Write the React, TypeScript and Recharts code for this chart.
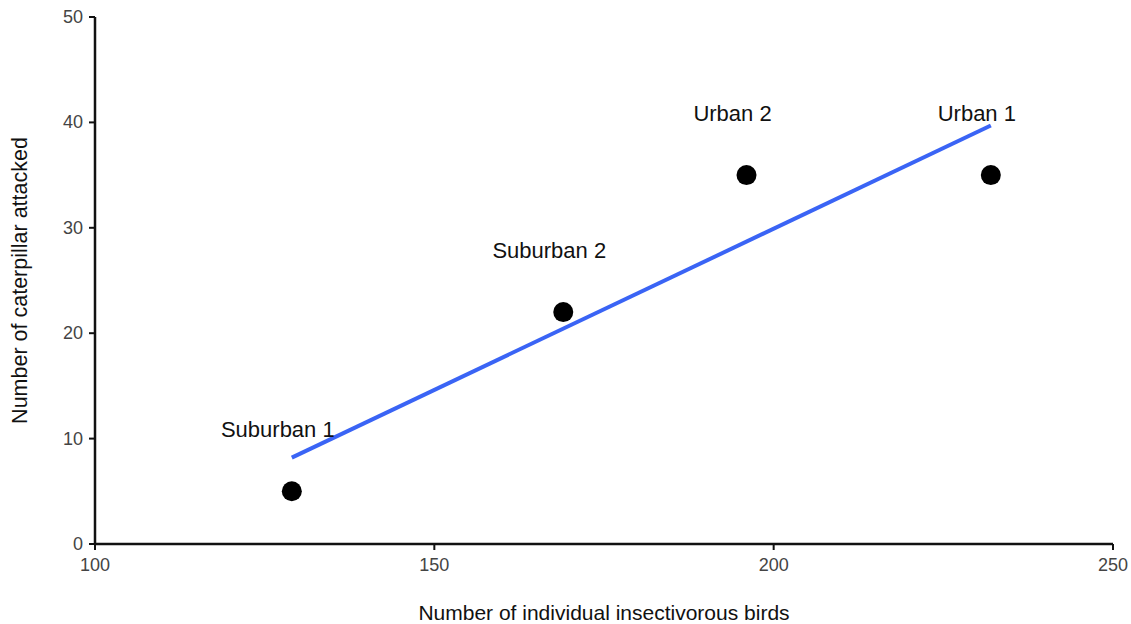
import React from 'react';
import { ComposedChart, Scatter, XAxis, YAxis, LabelList } from 'recharts';

const siteNames = ['Suburban 1', 'Suburban 2', 'Urban 2', 'Urban 1'];
const birdCounts = [129, 169, 196, 232];
const caterpillarsAttacked = [5, 22, 35, 35];
const fitX = [129, 232];
const fitY = [8.2, 39.7];
const xTicks = [100, 150, 200, 250];
const yTicks = [0, 10, 20, 30, 40, 50];

const points = siteNames.map((name, i) => ({ name, x: birdCounts[i], y: caterpillarsAttacked[i] }));
const fitLine = fitX.map((x, i) => ({ x, y: fitY[i] }));

const FONT = '"Liberation Sans", Arial, sans-serif';

const Dot = (props: any) => {
  const { cx, cy } = props;
  if (cx == null || cy == null) return null;
  return <circle cx={cx} cy={cy} r={10} fill="#000" />;
};

const NoShape = () => null;

const SiteLabel = (props: any) => {
  const { x, y, width, height, value } = props;
  const cx = x + (width || 0) / 2;
  const cy = y + (height || 0) / 2;
  return (
    <text x={cx - 14} y={cy - 54} textAnchor="middle" style={{ fontSize: 22, fontFamily: FONT, fill: '#111' }}>
      {value}
    </text>
  );
};

const XTick = (props: any) => {
  const { x, y, payload } = props;
  return (
    <text x={x} y={y + 17} textAnchor="middle" style={{ fontSize: 18, fontFamily: FONT, fill: '#444' }}>
      {payload.value}
    </text>
  );
};

const YTick = (props: any) => {
  const { x, y, payload } = props;
  return (
    <text x={x - 1} y={y + 6} textAnchor="end" style={{ fontSize: 18, fontFamily: FONT, fill: '#444' }}>
      {payload.value}
    </text>
  );
};

const XTitle = (props: any) => {
  const vb = props.viewBox || {};
  const cx = vb.x + vb.width / 2;
  return (
    <text x={cx} y={620} textAnchor="middle" style={{ fontSize: 21, fontFamily: FONT, fill: '#111' }}>
      Number of individual insectivorous birds
    </text>
  );
};

const YTitle = (props: any) => {
  const vb = props.viewBox || {};
  const cy = vb.y + vb.height / 2;
  return (
    <text x={27} y={cy} transform={`rotate(-90 27 ${cy})`} textAnchor="middle" style={{ fontSize: 21.5, fontFamily: FONT, fill: '#111' }}>
      Number of caterpillar attacked
    </text>
  );
};

export default function App() {
  return (
    <div style={{ position: 'absolute', left: 0, top: 0, background: '#fff' }}>
      <ComposedChart width={1131} height={624} margin={{ top: 17, right: 18, bottom: 0, left: 0 }}>
        <XAxis
          type="number"
          dataKey="x"
          domain={[100, 250]}
          ticks={xTicks}
          height={80}
          axisLine={{ stroke: '#111', strokeWidth: 2.5 }}
          tickLine={{ stroke: '#111', strokeWidth: 2 }}
          tickSize={6}
          tickMargin={4}
          tick={XTick}
          label={<XTitle />}
        />
        <YAxis
          type="number"
          dataKey="y"
          domain={[0, 50]}
          ticks={yTicks}
          width={95}
          axisLine={{ stroke: '#111', strokeWidth: 2.5 }}
          tickLine={{ stroke: '#111', strokeWidth: 2 }}
          tickSize={6}
          tickMargin={5}
          tick={YTick}
          label={<YTitle />}
        />
        <Scatter
          data={fitLine}
          line={{ stroke: '#3a64f5', strokeWidth: 4 }}
          shape={NoShape}
          isAnimationActive={false}
        />
        <Scatter data={points} shape={Dot} isAnimationActive={false}>
          <LabelList dataKey="name" content={SiteLabel} />
        </Scatter>
      </ComposedChart>
    </div>
  );
}
